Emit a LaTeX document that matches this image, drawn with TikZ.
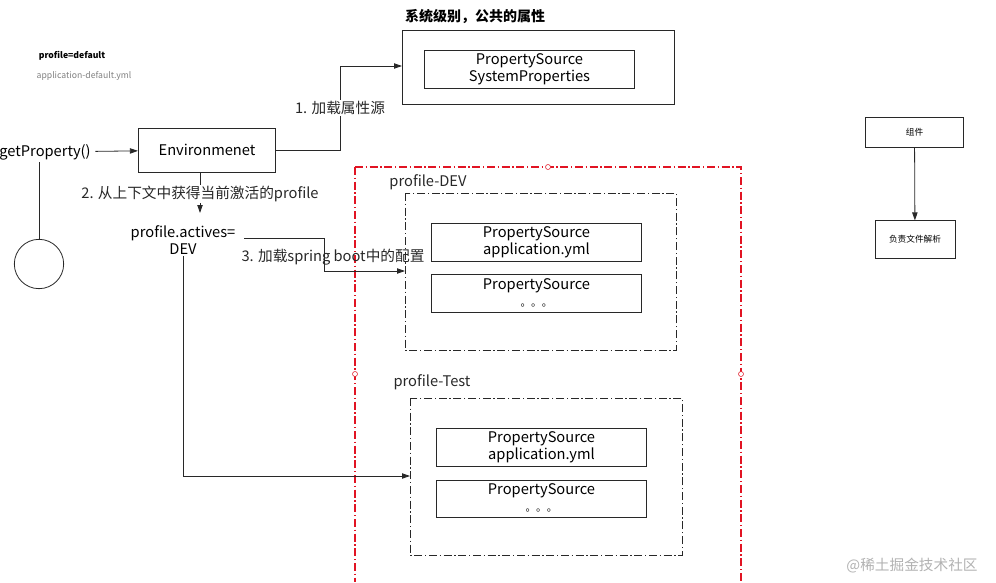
\documentclass[tikz,border=0pt]{standalone}
\usepackage{fontspec}
\setmainfont{Noto Sans CJK SC}
\usetikzlibrary{arrows.meta}
\definecolor{mygray}{RGB}{40,40,40}
\definecolor{myred}{RGB}{225,20,35}

\tikzset{
  box/.style={draw=mygray,semithick,minimum width=#1,inner sep=0pt,align=center,font=\fontsize{11}{13}\selectfont},
  lbl/.style={font=\fontsize{11}{12}\selectfont,text=mygray,fill=white,inner sep=1pt},
  conn/.style={draw=mygray,semithick,-{Triangle[length=6pt,width=4pt]}},
  dashdot/.style={draw=mygray,semithick,dash pattern=on 6pt off 2pt on 1pt off 2pt}
}

\begin{document}
\begin{tikzpicture}[x=0.75pt,y=-0.75pt]
  \useasboundingbox (0,0) rectangle (996,582);

  % Title and notes
  \node[font=\bfseries\fontsize{10.5}{12}\selectfont] (title) at (475,17) {系统级别，公共的属性};
  \node[font=\bfseries\fontsize{6.5}{8}\selectfont] (pdef) at (72,56) {profile=default};
  \node[font=\fontsize{6.5}{8}\selectfont,text=gray] (adef) at (84,76) {application-default.yml};

  % System properties
  \draw[mygray,semithick] (402,30) rectangle (674,104);
  \node[box,minimum width=158pt,minimum height=28pt] (sys) at (529.5,69.5) {PropertySource\\SystemProperties};
  \coordinate (sysin) at (402,66);

  % Environment
  \node[font=\fontsize{11}{12}\selectfont] (get) at (45,152) {getProperty()};
  \node[box,minimum width=103pt,minimum height=33pt] (env) at (207,150) {Environmenet};
  \draw[conn] (get) -- (env);
  \draw[conn] (env.east) -- (340,150) -- (340,66) -- (sysin);
  \node[lbl] (l1) at (340,108) {1. 加载属性源};

  \node[draw=mygray,semithick,circle,minimum size=37pt] (circ) at (39,264) {};
  \draw[mygray,semithick] (39,162) -- (circ);

  % Active profile
  \node[align=center,font=\fontsize{11}{13}\selectfont,inner sep=1pt] (act) at (183,240) {profile.actives=\\DEV};
  \draw[conn] (env.south -| 200,0) -- (200,213);
  \node[lbl] (l2) at (200,194) {2. 从上下文中获得当前激活的profile};

  % Outer region
  \draw[myred,line width=1pt,dash pattern=on 6pt off 2pt on 1pt off 2pt] (355,167) -- (741,167) -- (741,582) (355,167) -- (355,582);
  \foreach \p in {(548,167),(355,374),(741,374)}
    \draw[myred,fill=white] \p circle (2.5);

  % profile-DEV
  \node[font=\fontsize{11}{12}\selectfont,text=mygray] (tdev) at (428,182) {profile-DEV};
  \draw[dashdot] (405,193) rectangle (676,350);
  \node[box,minimum width=158pt,minimum height=28pt] (dev1) at (536.5,242.5) {PropertySource\\application.yml};
  \node[box,minimum width=158pt,minimum height=28pt] (dev2) at (536.5,293.5) {};
  \node[font=\fontsize{11}{12}\selectfont] at (536.5,286) {PropertySource};
  \node[font=\footnotesize] at (536.5,306) {。。。};

  % profile-Test
  \node[font=\fontsize{11}{12}\selectfont,text=mygray] (ttest) at (432,382) {profile-Test};
  \draw[dashdot] (410,398) rectangle (682,555);
  \node[box,minimum width=158pt,minimum height=28pt] (test1) at (541.5,447.5) {PropertySource\\application.yml};
  \node[box,minimum width=158pt,minimum height=28pt] (test2) at (541.5,499) {};
  \node[font=\fontsize{11}{12}\selectfont] at (541.5,491) {PropertySource};
  \node[font=\footnotesize] at (541.5,511) {。。。};

  % Loading connectors
  \coordinate (devin) at (405,271);
  \coordinate (testin) at (410,476);
  \draw[conn] (244,238) -- (324,238) -- (324,271) -- (devin);
  \node[lbl,fill=none] (l3) at (333,257) {3. 加载spring boot中的配置};
  \draw[conn] (183,256) -- (183,476) -- (testin);

  % Component
  \node[box,minimum width=73pt,minimum height=22pt,font=\fontsize{6.5}{8}\selectfont] (comp) at (914.5,132.5) {组件};
  \node[box,minimum width=60pt,minimum height=28pt,font=\fontsize{6.5}{8}\selectfont] (parse) at (915,239.5) {负责文件解析};
  \draw[conn] (comp) -- (parse);

  \node[font=\fontsize{11}{12}\selectfont,text=gray!60] (wm) at (912,566) {@稀土掘金技术社区};
\end{tikzpicture}
\end{document}
